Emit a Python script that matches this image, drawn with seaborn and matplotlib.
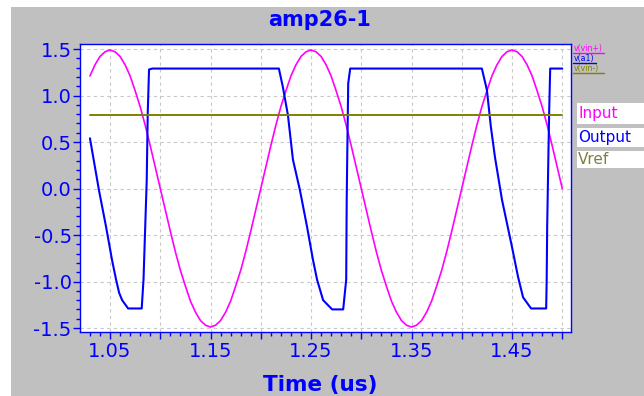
import matplotlib
matplotlib.use("Agg")
import matplotlib.pyplot as plt
import matplotlib.ticker as mticker
from matplotlib.patches import Rectangle
from matplotlib.lines import Line2D
import seaborn as sns
import pandas as pd

# ---- data ----
title = "amp26-1"
xlabel = "Time (us)"
series_names = ["Input", "Output", "Vref"]
probe_names = ["v(vin+)", "v(a1)", "v(vin-)"]

in_t = [1.030, 1.035, 1.040, 1.045, 1.050, 1.055, 1.060, 1.065, 1.070, 1.075,
        1.080, 1.085, 1.090, 1.095, 1.100, 1.105, 1.110, 1.115, 1.120, 1.125,
        1.130, 1.135, 1.140, 1.145, 1.150, 1.155, 1.160, 1.165, 1.170, 1.175,
        1.180, 1.185, 1.190, 1.195, 1.200, 1.205, 1.210, 1.215, 1.220, 1.225,
        1.230, 1.235, 1.240, 1.245, 1.250, 1.255, 1.260, 1.265, 1.270, 1.275,
        1.280, 1.285, 1.290, 1.295, 1.300, 1.305, 1.310, 1.315, 1.320, 1.325,
        1.330, 1.335, 1.340, 1.345, 1.350, 1.355, 1.360, 1.365, 1.370, 1.375,
        1.380, 1.385, 1.390, 1.395, 1.400, 1.405, 1.410, 1.415, 1.420, 1.425,
        1.430, 1.435, 1.440, 1.445, 1.450, 1.455, 1.460, 1.465, 1.470, 1.475,
        1.480, 1.485, 1.490, 1.495, 1.500]
in_v = [1.21, 1.33, 1.42, 1.47, 1.49, 1.47, 1.42, 1.33, 1.21, 1.05,
        0.88, 0.68, 0.46, 0.23, 0.00, -0.23, -0.46, -0.68, -0.88, -1.05,
        -1.21, -1.33, -1.42, -1.47, -1.49, -1.47, -1.42, -1.33, -1.21, -1.05,
        -0.88, -0.68, -0.46, -0.23, 0.00, 0.23, 0.46, 0.68, 0.88, 1.05,
        1.21, 1.33, 1.42, 1.47, 1.49, 1.47, 1.42, 1.33, 1.21, 1.05,
        0.88, 0.68, 0.46, 0.23, 0.00, -0.23, -0.46, -0.68, -0.88, -1.05,
        -1.21, -1.33, -1.42, -1.47, -1.49, -1.47, -1.42, -1.33, -1.21, -1.05,
        -0.88, -0.68, -0.46, -0.23, 0.00, 0.23, 0.46, 0.68, 0.88, 1.05,
        1.21, 1.33, 1.42, 1.47, 1.49, 1.47, 1.42, 1.33, 1.21, 1.05,
        0.88, 0.68, 0.46, 0.23, 0.00]

out_t = [1.030, 1.039, 1.046, 1.052, 1.056, 1.059, 1.062, 1.068, 1.0815, 1.0833,
         1.0865, 1.0875, 1.0888, 1.092,
         1.218, 1.222, 1.227, 1.232, 1.239, 1.246, 1.252, 1.256, 1.262, 1.271,
         1.282, 1.285, 1.2855, 1.286, 1.287, 1.289,
         1.420, 1.425, 1.429, 1.433, 1.440, 1.450, 1.456, 1.461, 1.469,
         1.484, 1.4845, 1.485, 1.486, 1.487, 1.488, 1.500]
out_v = [0.54, -0.02, -0.41, -0.77, -0.98, -1.12, -1.20, -1.29, -1.29, -0.98,
         0.09, 0.81, 1.28, 1.29,
         1.29, 1.09, 0.79, 0.31, -0.02, -0.41, -0.77, -0.98, -1.20, -1.30,
         -1.30, -0.98, -0.12, 0.31, 1.13, 1.29,
         1.29, 1.06, 0.66, 0.34, -0.12, -0.63, -0.95, -1.17, -1.29,
         -1.29, -0.98, -0.41, 0.23, 0.84, 1.29, 1.29]

vref_t = [1.03, 1.50]
vref_v = [0.79, 0.79]

# ---- styling ----
BLUE = "#0000FF"
MAGENTA = "#FF00FF"
OLIVE = "#808000"
OLIVE_TXT = "#7F7F40"
GRAY = "#C0C0C0"

sns.set_style("white")
plt.rcParams["font.family"] = ["DejaVu Sans"]

W, H = 644, 396
fig = plt.figure(figsize=(W / 100, H / 100), dpi=100, facecolor="white")
fig.add_artist(Rectangle((11 / W, 0), 1 - 11 / W, 1 - 7 / H,
                         transform=fig.transFigure, facecolor=GRAY,
                         edgecolor="none", zorder=-10))

ax = fig.add_axes([80 / W, (H - 332) / H, 491 / W, 288 / H])
ax.set_facecolor("white")

df_in = pd.DataFrame({"t": in_t, "v": in_v})
df_out = pd.DataFrame({"t": out_t, "v": out_v})
df_ref = pd.DataFrame({"t": vref_t, "v": vref_v})

sns.lineplot(data=df_in, x="t", y="v", ax=ax, color=MAGENTA, lw=1.2,
             estimator=None, sort=False)
sns.lineplot(data=df_out, x="t", y="v", ax=ax, color=BLUE, lw=1.5,
             estimator=None, sort=False)
sns.lineplot(data=df_ref, x="t", y="v", ax=ax, color=OLIVE, lw=1.4,
             estimator=None, sort=False)

ax.set_xlim(1.0201, 1.5087)
ax.set_ylim(-1.543, 1.554)
ax.set_xlabel("")
ax.set_ylabel("")

ax.xaxis.set_major_locator(mticker.MultipleLocator(0.05))
ax.xaxis.set_minor_locator(mticker.MultipleLocator(0.01))
ax.xaxis.set_major_formatter(mticker.FuncFormatter(
    lambda v, p: f"{v:.2f}" if round(v * 100) % 10 == 5 else ""))
ax.yaxis.set_major_locator(mticker.MultipleLocator(0.5))
ax.yaxis.set_minor_locator(mticker.MultipleLocator(0.1))
ax.yaxis.set_major_formatter(mticker.FuncFormatter(lambda v, p: f"{v:.1f}"))

ax.tick_params(axis="both", which="major", direction="out", length=5,
               width=1, color=BLUE, labelcolor=BLUE, labelsize=14)
ax.tick_params(axis="both", which="minor", direction="out", length=3,
               width=1, color=BLUE)
ax.tick_params(axis="x", which="both", bottom=True, pad=2)
ax.tick_params(axis="y", which="both", left=True, pad=1)

for s in ax.spines.values():
    s.set_color(BLUE)
    s.set_linewidth(1.0)
    s.set_visible(True)

ax.grid(True, which="major", color="#C8C8C8", linestyle=(0, (3, 3)), lw=0.8)
ax.set_axisbelow(True)

fig.text(320 / W, 1 - 20 / H, title, color=BLUE, fontsize=15,
         fontweight="bold", ha="center", va="center")
fig.text(320 / W, 1 - 385 / H, xlabel, color=BLUE, fontsize=15.5,
         fontweight="bold", ha="center", va="center")

# small probe labels (underlined)
probe_cols = [MAGENTA, BLUE, OLIVE]
probe_y = [48, 58, 68]
for name, col, yy in zip(probe_names, probe_cols, probe_y):
    fig.text(574 / W, 1 - yy / H, name, color=col, fontsize=5.6,
             ha="left", va="center")
    n = len(name)
    fig.add_artist(Line2D([573 / W, (574 + 4.3 * n) / W],
                          [1 - (yy + 4.5) / H, 1 - (yy + 4.5) / H],
                          transform=fig.transFigure, color=col, lw=1.0))

# legend boxes
box_cols = [MAGENTA, BLUE, OLIVE_TXT]
box_y = [(103, 124), (128, 147), (151, 168)]
for name, col, (y0, y1) in zip(series_names, box_cols, box_y):
    fig.add_artist(Rectangle((577 / W, 1 - y1 / H), (W - 577) / W, (y1 - y0) / H,
                             transform=fig.transFigure, facecolor="white",
                             edgecolor="none"))
    fig.text(578 / W, 1 - ((y0 + y1) / 2) / H, name, color=col, fontsize=11,
             ha="left", va="center")

fig.savefig("out.png", dpi=100, facecolor="white")
